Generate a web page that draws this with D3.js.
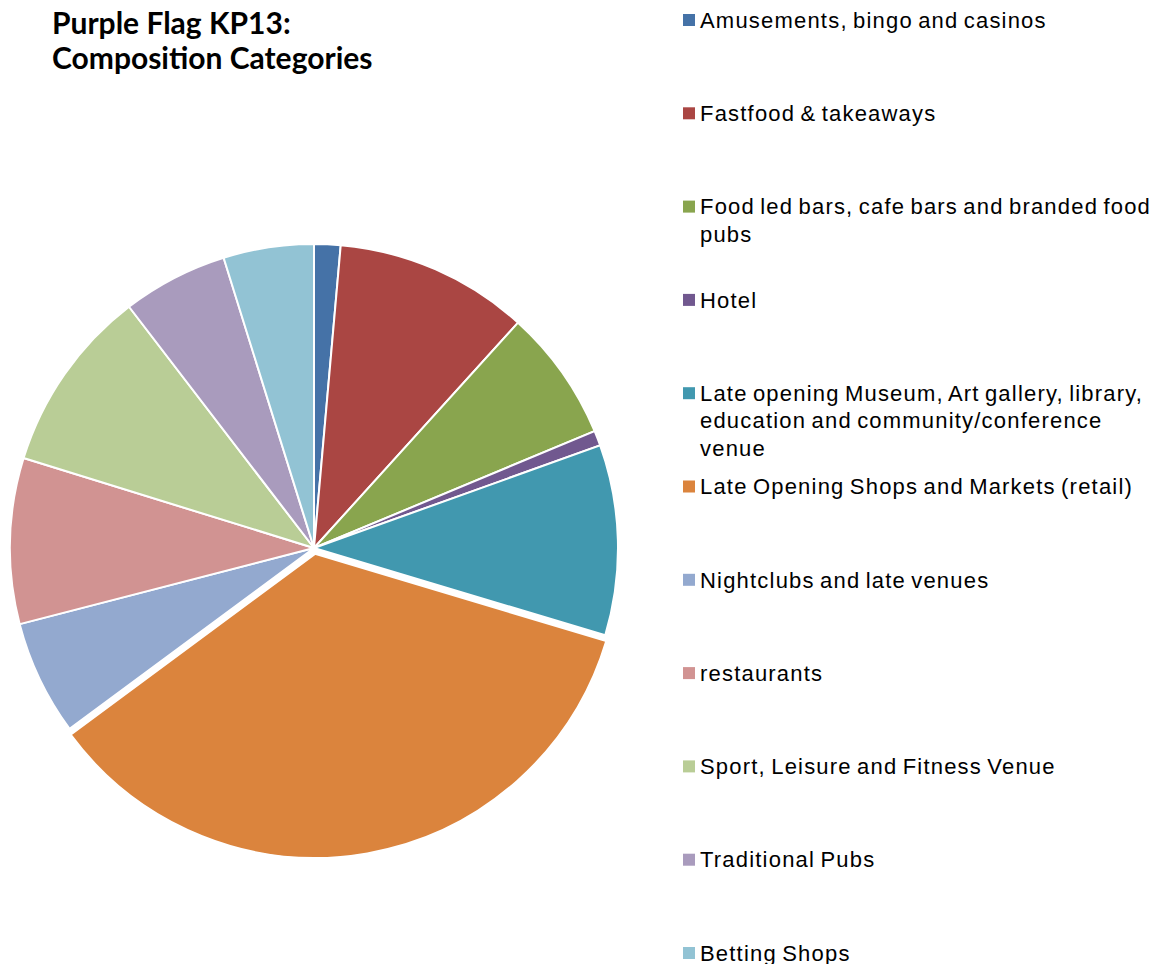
<!DOCTYPE html>
<html>
<head>
<meta charset="utf-8">
<script src="https://cdn.jsdelivr.net/npm/d3@7"></script>
<style>
  body { margin: 0; background: #fff; }
  svg { display: block; }
</style>
</head>
<body>
<svg id="chart" width="1158" height="964"></svg>
<script>
// data (share of venues, %)
const categories = [
    "Amusements, bingo and casinos",
    "Fastfood & takeaways",
    "Food led bars, cafe bars and branded food pubs",
    "Hotel",
    "Late opening Museum, Art gallery, library, education and community/conference venue",
    "Late Opening Shops and Markets (retail)",
    "Nightclubs and late venues",
    "restaurants",
    "Sport, Leisure and Fitness Venue",
    "Traditional Pubs",
    "Betting Shops"
];
const values = [1.4, 10.3, 7.0, 0.8, 10.1, 35.2, 6.1, 8.8, 9.8, 5.6, 4.8];
const colors = ["#4572A7", "#AA4643", "#89A54E", "#71588F", "#4198AF", "#DB843D",
                "#93A9CF", "#D19392", "#B9CD96", "#A99BBD", "#92C3D4"];
const exploded = ["Late Opening Shops and Markets (retail)"];

const svg = d3.select("#chart");
const cx = 314, cy = 548, radius = 304;

const data = categories.map((c, i) => ({ name: c, value: values[i], color: colors[i] }));

const pie = d3.pie().value(d => d.value).sort(null);
const arc = d3.arc().innerRadius(0).outerRadius(radius);

const g = svg.append("g").attr("transform", `translate(${cx},${cy})`);

g.selectAll("path")
    .data(pie(data))
    .enter().append("path")
    .attr("d", arc)
    .attr("fill", d => d.data.color)
    .attr("stroke", "#fff")
    .attr("stroke-width", 2)
    .attr("transform", d => {
        if (!exploded.includes(d.data.name)) return null;
        const a = (d.startAngle + d.endAngle) / 2;
        const off = 6;
        return `translate(${off * Math.sin(a)},${-off * Math.cos(a)})`;
    });

// title
const title = svg.append("text")
    .attr("font-family", "Lato, 'Open Sans', sans-serif")
    .attr("font-weight", "bold")
    .attr("font-size", 30)
    .attr("fill", "#000");
title.append("tspan").attr("x", 52).attr("y", 34).text("Purple Flag KP13:");
title.append("tspan").attr("x", 52).attr("y", 69).text("Composition Categories");

// legend
const legendX = 683, legendTop = 20, legendStep = 93.3, lineH = 27.5, maxW = 456;
const legend = svg.append("g");

data.forEach((d, i) => {
    const y = legendTop + i * legendStep;
    legend.append("rect")
        .attr("x", legendX).attr("y", y - 6)
        .attr("width", 12).attr("height", 12)
        .attr("fill", d.color);

    const t = legend.append("text")
        .attr("font-family", "'Liberation Sans', Arial, sans-serif")
        .attr("font-size", 22)
        .attr("letter-spacing", 1.2)
        .attr("word-spacing", -2)
        .attr("fill", "#000");

    // simple word wrap
    const words = d.name.split(" ");
    let line = [], row = 0;
    let span = t.append("tspan").attr("x", 700).attr("y", y).attr("dy", "0.35em");
    words.forEach(w => {
        line.push(w);
        span.text(line.join(" "));
        if (span.node().getComputedTextLength() > maxW && line.length > 1) {
            line.pop();
            span.text(line.join(" "));
            line = [w];
            row++;
            span = t.append("tspan").attr("x", 700).attr("y", y + row * lineH)
                .attr("dy", "0.35em").text(w);
        }
    });
});
</script>
</body>
</html>
